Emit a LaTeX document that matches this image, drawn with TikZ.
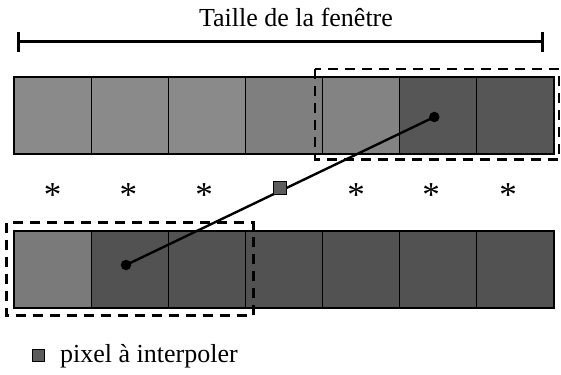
\documentclass[tikz,border=0pt]{standalone}
\usepackage{fontspec}
\setmainfont{Liberation Serif}
\usetikzlibrary{arrows.meta}
\definecolor{gA}{HTML}{8A8A8A}
\definecolor{gB}{HTML}{7F7F7F}
\definecolor{gC}{HTML}{838383}
\definecolor{gD}{HTML}{565656}
\definecolor{gE}{HTML}{7A7A7A}
\definecolor{gF}{HTML}{525252}
\definecolor{gS}{HTML}{5C5C5C}
\tikzset{
  cell/.style={draw=black, line width=1.2pt, inner sep=0pt, minimum width=77.14pt, minimum height=77pt},
  dashbox/.style={draw=black, line width=2.8pt, dash pattern=on 10pt off 7pt},
  dotnode/.style={circle, fill=black, inner sep=0pt, minimum size=10.5pt},
  pixsq/.style={draw=black, line width=1pt, fill=gS, inner sep=0pt, minimum size=13.5pt},
  star/.style={anchor=base, inner sep=0pt, font=\fontsize{35}{40}\selectfont},
  lbl/.style={inner sep=0pt, font=\fontsize{26}{30}\selectfont},
  link/.style={draw=black, line width=2.4pt},
  dimline/.style={draw=black, line width=3pt, {Bar[width=20pt,line width=3pt]}-{Bar[width=20pt,line width=3pt]}}
}
\begin{document}
\begin{tikzpicture}[x=1pt,y=-1pt]
\useasboundingbox (0,0) rectangle (561,374);
% title and dimension line
\node[lbl, anchor=base] (title) at (296,27) {Taille de la fenêtre};
\coordinate (dl) at (16.7,42);
\coordinate (dr) at (544.3,42);
\draw[dimline] (dl) -- (dr);
% top row
\foreach \i/\c in {1/gA,2/gA,3/gA,4/gB,5/gC,6/gD,7/gD}{
  \node[cell, fill=\c] (t\i) at ({14+77.14*(\i-0.5)},115.5) {};
}
% bottom row
\foreach \i/\c in {1/gE,2/gF,3/gF,4/gF,5/gF,6/gF,7/gF}{
  \node[cell, fill=\c] (b\i) at ({14+77.14*(\i-0.5)},269.5) {};
}
% dashed windows
\draw[dashbox] (315,69) rectangle (559,159.5);
\draw[dashbox] (6.7,222.5) rectangle (253.5,315.5);
% asterisks
\foreach \j/\x in {1/52.7,2/128.3,3/204,5/356,6/431,7/508}{
  \node[star] (s\j) at (\x,206.5) {*};
}
% interpolation line
\node[dotnode] (pa) at (434.3,117) {};
\node[dotnode] (pb) at (126,265) {};
\draw[link] (pb.center) -- (pa.center);
\node[pixsq] (px) at (280,188) {};
% legend
\node[pixsq, minimum size=12pt] (lsq) at (38.3,355.5) {};
\node[lbl, anchor=base west] (ltext) at (60,362) {pixel à interpoler};
\end{tikzpicture}
\end{document}
